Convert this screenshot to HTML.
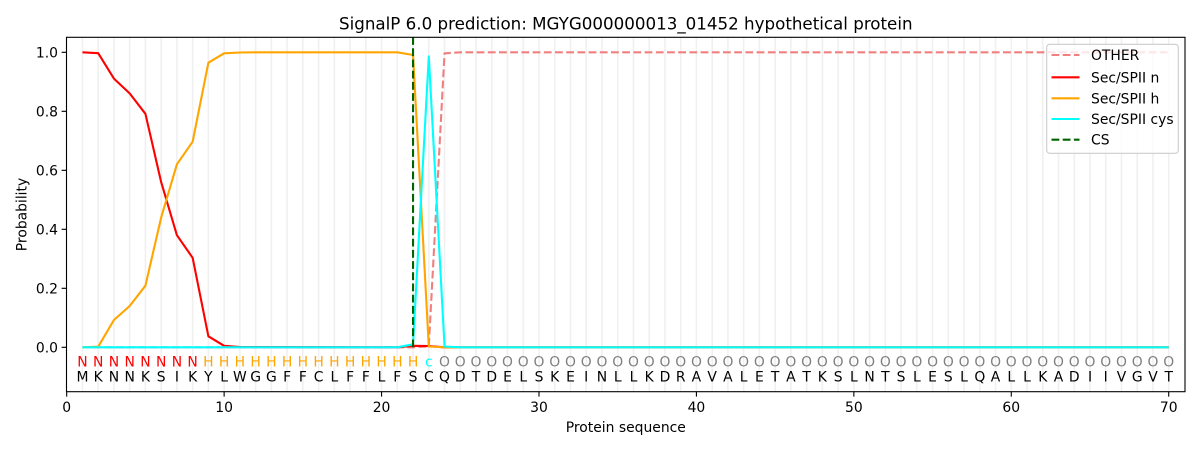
<!DOCTYPE html>
<html><head><meta charset="utf-8"><style>
html,body{margin:0;padding:0;background:#fff;}
svg{display:block;}
text{font-family:"DejaVu Sans","Liberation Sans",sans-serif;}
</style></head><body>
<svg width="1200" height="450" viewBox="0 0 1200 450" xmlns="http://www.w3.org/2000/svg">
<rect width="1200" height="450" fill="#fff"/>
<g stroke="#f0f0f0" stroke-width="1.6">
<path d="M82.44 37.3V391.7M98.19 37.3V391.7M113.93 37.3V391.7M129.67 37.3V391.7M145.42 37.3V391.7M161.16 37.3V391.7M176.9 37.3V391.7M192.64 37.3V391.7M208.39 37.3V391.7M224.13 37.3V391.7M239.87 37.3V391.7M255.62 37.3V391.7M271.36 37.3V391.7M287.1 37.3V391.7M302.85 37.3V391.7M318.59 37.3V391.7M334.33 37.3V391.7M350.07 37.3V391.7M365.82 37.3V391.7M381.56 37.3V391.7M397.3 37.3V391.7M413.05 37.3V391.7M428.79 37.3V391.7M444.53 37.3V391.7M460.28 37.3V391.7M476.02 37.3V391.7M491.76 37.3V391.7M507.5 37.3V391.7M523.25 37.3V391.7M538.99 37.3V391.7M554.73 37.3V391.7M570.48 37.3V391.7M586.22 37.3V391.7M601.96 37.3V391.7M617.71 37.3V391.7M633.45 37.3V391.7M649.19 37.3V391.7M664.93 37.3V391.7M680.68 37.3V391.7M696.42 37.3V391.7M712.16 37.3V391.7M727.91 37.3V391.7M743.65 37.3V391.7M759.39 37.3V391.7M775.14 37.3V391.7M790.88 37.3V391.7M806.62 37.3V391.7M822.36 37.3V391.7M838.11 37.3V391.7M853.85 37.3V391.7M869.59 37.3V391.7M885.34 37.3V391.7M901.08 37.3V391.7M916.82 37.3V391.7M932.57 37.3V391.7M948.31 37.3V391.7M964.05 37.3V391.7M979.79 37.3V391.7M995.54 37.3V391.7M1011.28 37.3V391.7M1027.02 37.3V391.7M1042.77 37.3V391.7M1058.51 37.3V391.7M1074.25 37.3V391.7M1090 37.3V391.7M1105.74 37.3V391.7M1121.48 37.3V391.7M1137.22 37.3V391.7M1152.97 37.3V391.7M1168.71 37.3V391.7"/>
</g>
<g fill="none" stroke-width="2.1" stroke-linejoin="round">
<!-- OTHER -->
<polyline stroke="#f08080" stroke-dasharray="7.8,3.4" points="82.44,347.3 413.05,347.3 428.79,346.4 444.53,53.3 460.28,52.3 1168.71,52.3"/>
<!-- n -->
<polyline stroke="#ff0000" points="82.44,52.3 98.19,53.2 113.93,78.6 129.67,93.4 145.42,113.8 161.16,182.1 176.9,235.2 192.64,257.8 208.39,336.3 224.13,345.8 239.87,347 397.3,347.3 413.05,345.8 428.79,346.1 444.53,347.3 1168.71,347.3"/>
<!-- h -->
<polyline stroke="#ffa500" points="82.44,347.3 98.19,346.7 113.93,320 129.67,306 145.42,285.7 161.16,217.5 176.9,164.3 192.64,141.7 208.39,62.7 224.13,53.3 239.87,52.5 255.62,52.3 397.3,52.3 413.05,55 428.79,346.5 444.53,347.3 1168.71,347.3"/>
<!-- cys -->
<polyline stroke="#00ffff" points="82.44,347.3 397.3,347.3 413.05,344.3 428.79,56.3 444.53,346.5 460.28,347.3 1168.71,347.3"/>
<!-- CS -->
<line x1="413.05" y1="347.3" x2="413.05" y2="37.5" stroke="#006400" stroke-dasharray="7.8,3.4"/>
</g>
<!-- axes frame -->
<rect x="66.5" y="37.3" width="1118.5" height="354.4" fill="none" stroke="#000" stroke-width="1.1"/>
<!-- ticks -->
<g stroke="#000" stroke-width="1.1">
<path d="M66.7 391.7v4.9M224.13 391.7v4.9M381.56 391.7v4.9M538.99 391.7v4.9M696.42 391.7v4.9M853.85 391.7v4.9M1011.28 391.7v4.9M1168.71 391.7v4.9"/>
<path d="M66.5 347.3h-4.9M66.5 288.3h-4.9M66.5 229.3h-4.9M66.5 170.3h-4.9M66.5 111.3h-4.9M66.5 52.3h-4.9"/>
</g>
<g font-size="13.9" fill="#000" text-anchor="middle">
<text x="66.7" y="412">0</text><text x="224.13" y="412">10</text><text x="381.56" y="412">20</text><text x="538.99" y="412">30</text><text x="696.42" y="412">40</text><text x="853.85" y="412">50</text><text x="1011.28" y="412">60</text><text x="1168.71" y="412">70</text>
</g>
<g font-size="13.9" fill="#000" text-anchor="end">
<text x="58" y="352.3">0.0</text><text x="58" y="293.3">0.2</text><text x="58" y="234.3">0.4</text><text x="58" y="175.3">0.6</text><text x="58" y="116.3">0.8</text><text x="58" y="57.3">1.0</text>
</g>
<text x="625.8" y="432" font-size="13.9" text-anchor="middle">Protein sequence</text>
<text transform="translate(26.5,214.5) rotate(-90)" font-size="13.9" text-anchor="middle">Probability</text>
<text x="625.8" y="29.5" font-size="16.7" text-anchor="middle">SignalP 6.0 prediction: MGYG000000013_01452 hypothetical protein</text>
<!-- region labels -->
<g font-size="13.9" text-anchor="middle">
<g fill="#ff0000"><text x="82.44" y="366.5">N</text><text x="98.19" y="366.5">N</text><text x="113.93" y="366.5">N</text><text x="129.67" y="366.5">N</text><text x="145.42" y="366.5">N</text><text x="161.16" y="366.5">N</text><text x="176.9" y="366.5">N</text><text x="192.64" y="366.5">N</text></g>
<g fill="#ffa500"><text x="208.39" y="366.5">H</text><text x="224.13" y="366.5">H</text><text x="239.87" y="366.5">H</text><text x="255.62" y="366.5">H</text><text x="271.36" y="366.5">H</text><text x="287.1" y="366.5">H</text><text x="302.85" y="366.5">H</text><text x="318.59" y="366.5">H</text><text x="334.33" y="366.5">H</text><text x="350.07" y="366.5">H</text><text x="365.82" y="366.5">H</text><text x="381.56" y="366.5">H</text><text x="397.3" y="366.5">H</text><text x="413.05" y="366.5">H</text></g>
<g fill="#00ffff"><text x="428.79" y="366.5">c</text></g>
<g fill="#808080"><text x="444.53" y="366.5">O</text><text x="460.28" y="366.5">O</text><text x="476.02" y="366.5">O</text><text x="491.76" y="366.5">O</text><text x="507.5" y="366.5">O</text><text x="523.25" y="366.5">O</text><text x="538.99" y="366.5">O</text><text x="554.73" y="366.5">O</text><text x="570.48" y="366.5">O</text><text x="586.22" y="366.5">O</text><text x="601.96" y="366.5">O</text><text x="617.71" y="366.5">O</text><text x="633.45" y="366.5">O</text><text x="649.19" y="366.5">O</text><text x="664.93" y="366.5">O</text><text x="680.68" y="366.5">O</text><text x="696.42" y="366.5">O</text><text x="712.16" y="366.5">O</text><text x="727.91" y="366.5">O</text><text x="743.65" y="366.5">O</text><text x="759.39" y="366.5">O</text><text x="775.14" y="366.5">O</text><text x="790.88" y="366.5">O</text><text x="806.62" y="366.5">O</text><text x="822.36" y="366.5">O</text><text x="838.11" y="366.5">O</text><text x="853.85" y="366.5">O</text><text x="869.59" y="366.5">O</text><text x="885.34" y="366.5">O</text><text x="901.08" y="366.5">O</text><text x="916.82" y="366.5">O</text><text x="932.57" y="366.5">O</text><text x="948.31" y="366.5">O</text><text x="964.05" y="366.5">O</text><text x="979.79" y="366.5">O</text><text x="995.54" y="366.5">O</text><text x="1011.28" y="366.5">O</text><text x="1027.02" y="366.5">O</text><text x="1042.77" y="366.5">O</text><text x="1058.51" y="366.5">O</text><text x="1074.25" y="366.5">O</text><text x="1090" y="366.5">O</text><text x="1105.74" y="366.5">O</text><text x="1121.48" y="366.5">O</text><text x="1137.22" y="366.5">O</text><text x="1152.97" y="366.5">O</text><text x="1168.71" y="366.5">O</text></g>
</g>
<!-- sequence -->
<g font-size="13.9" text-anchor="middle" fill="#000">
<text x="82.44" y="381.5">M</text><text x="98.19" y="381.5">K</text><text x="113.93" y="381.5">N</text><text x="129.67" y="381.5">N</text><text x="145.42" y="381.5">K</text><text x="161.16" y="381.5">S</text><text x="176.9" y="381.5">I</text><text x="192.64" y="381.5">K</text><text x="208.39" y="381.5">Y</text><text x="224.13" y="381.5">L</text><text x="239.87" y="381.5">W</text><text x="255.62" y="381.5">G</text><text x="271.36" y="381.5">G</text><text x="287.1" y="381.5">F</text><text x="302.85" y="381.5">F</text><text x="318.59" y="381.5">C</text><text x="334.33" y="381.5">L</text><text x="350.07" y="381.5">F</text><text x="365.82" y="381.5">F</text><text x="381.56" y="381.5">L</text><text x="397.3" y="381.5">F</text><text x="413.05" y="381.5">S</text><text x="428.79" y="381.5">C</text><text x="444.53" y="381.5">Q</text><text x="460.28" y="381.5">D</text><text x="476.02" y="381.5">T</text><text x="491.76" y="381.5">D</text><text x="507.5" y="381.5">E</text><text x="523.25" y="381.5">L</text><text x="538.99" y="381.5">S</text><text x="554.73" y="381.5">K</text><text x="570.48" y="381.5">E</text><text x="586.22" y="381.5">I</text><text x="601.96" y="381.5">N</text><text x="617.71" y="381.5">L</text><text x="633.45" y="381.5">L</text><text x="649.19" y="381.5">K</text><text x="664.93" y="381.5">D</text><text x="680.68" y="381.5">R</text><text x="696.42" y="381.5">A</text><text x="712.16" y="381.5">V</text><text x="727.91" y="381.5">A</text><text x="743.65" y="381.5">L</text><text x="759.39" y="381.5">E</text><text x="775.14" y="381.5">T</text><text x="790.88" y="381.5">A</text><text x="806.62" y="381.5">T</text><text x="822.36" y="381.5">K</text><text x="838.11" y="381.5">S</text><text x="853.85" y="381.5">L</text><text x="869.59" y="381.5">N</text><text x="885.34" y="381.5">T</text><text x="901.08" y="381.5">S</text><text x="916.82" y="381.5">L</text><text x="932.57" y="381.5">E</text><text x="948.31" y="381.5">S</text><text x="964.05" y="381.5">L</text><text x="979.79" y="381.5">Q</text><text x="995.54" y="381.5">A</text><text x="1011.28" y="381.5">L</text><text x="1027.02" y="381.5">L</text><text x="1042.77" y="381.5">K</text><text x="1058.51" y="381.5">A</text><text x="1074.25" y="381.5">D</text><text x="1090" y="381.5">I</text><text x="1105.74" y="381.5">I</text><text x="1121.48" y="381.5">V</text><text x="1137.22" y="381.5">G</text><text x="1152.97" y="381.5">V</text><text x="1168.71" y="381.5">T</text>
</g>
<!-- legend -->
<rect x="1046.7" y="44.3" width="131.6" height="109" rx="3" ry="3" fill="#fff" fill-opacity="0.8" stroke="#cccccc" stroke-width="1.1"/>
<g stroke-width="2.1" fill="none">
<line x1="1051.5" y1="55" x2="1079.5" y2="55" stroke="#f08080" stroke-dasharray="7.8,3.4"/>
<line x1="1051.5" y1="77.3" x2="1079.5" y2="77.3" stroke="#ff0000"/>
<line x1="1051.5" y1="98.3" x2="1079.5" y2="98.3" stroke="#ffa500"/>
<line x1="1051.5" y1="119" x2="1079.5" y2="119" stroke="#00ffff"/>
<line x1="1051.5" y1="139.7" x2="1079.5" y2="139.7" stroke="#006400" stroke-dasharray="7.8,3.4"/>
</g>
<g font-size="13.9" fill="#000">
<text x="1091" y="60">OTHER</text>
<text x="1091" y="82.3">Sec/SPII n</text>
<text x="1091" y="103.3">Sec/SPII h</text>
<text x="1091" y="124">Sec/SPII cys</text>
<text x="1091" y="144.7">CS</text>
</g>
</svg>
</body></html>
